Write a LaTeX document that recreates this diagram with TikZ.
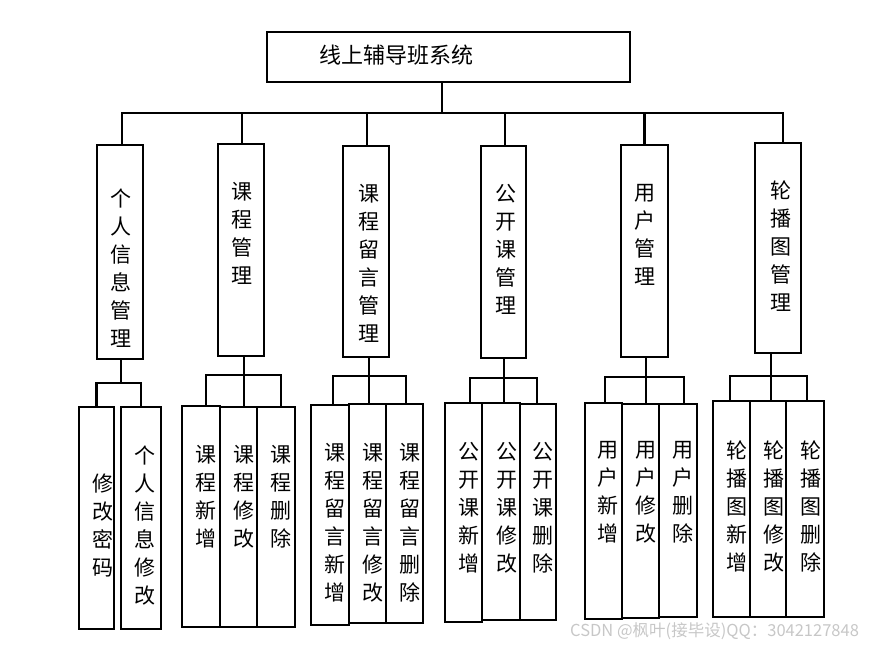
\documentclass[tikz,border=0pt]{standalone}
\usepackage{fontspec}
\newfontfamily\cjk{Noto Sans CJK SC}
\begin{document}
\begin{tikzpicture}[x=1pt,y=-1pt,
  bx/.style={draw, line width=2.6pt, inner sep=0pt, rectangle},
  vt/.style={font=\cjk\fontsize{21}{28}\selectfont, align=center, inner sep=0pt, anchor=north},
  ln/.style={line width=2.6pt, line join=miter}]
\useasboundingbox (0,0) rectangle (870,646);
% root
\node[bx, minimum width=363, minimum height=50] (root) at (448.5,57) {};
\node[font=\cjk\fontsize{22}{22}\selectfont, anchor=west, inner sep=0pt] (title) at (319,55) {线上辅导班系统};
% mid boxes
\node[bx, minimum width=46, minimum height=214] (m1) at (120,252) {};
\node[bx, minimum width=46, minimum height=212] (m2) at (241,250) {};
\node[bx, minimum width=46, minimum height=211] (m3) at (366,251.5) {};
\node[bx, minimum width=45, minimum height=212] (m4) at (503.5,252) {};
\node[bx, minimum width=47, minimum height=212] (m5) at (644.5,251) {};
\node[bx, minimum width=46, minimum height=210] (m6) at (778,248) {};
\node[vt] (t1) at (121,189) {个\\人\\信\\息\\管\\理};
\node[vt] (t2) at (242,182) {课\\程\\管\\理};
\node[vt] (t3) at (369,184) {课\\程\\留\\言\\管\\理};
\node[vt] (t4) at (506,184) {公\\开\\课\\管\\理};
\node[vt] (t5) at (645,184) {用\\户\\管\\理};
\node[vt] (t6) at (781,181) {轮\\播\\图\\管\\理};
% children
\node[bx, minimum width=35, minimum height=222] (c11) at (96.5,518) {};
\node[bx, minimum width=40, minimum height=222] (c12) at (141,518) {};
\node[bx, minimum width=38, minimum height=221] (c21) at (201,516.5) {};
\node[bx, minimum width=37, minimum height=220] (c22) at (238.5,517) {};
\node[bx, minimum width=38, minimum height=220] (c23) at (276,517) {};
\node[bx, minimum width=38, minimum height=220] (c31) at (330,515) {};
\node[bx, minimum width=37, minimum height=219] (c32) at (367.5,513.5) {};
\node[bx, minimum width=37, minimum height=219] (c33) at (404.5,513.5) {};
\node[bx, minimum width=37, minimum height=219] (c41) at (463.5,512.5) {};
\node[bx, minimum width=38, minimum height=217] (c42) at (501,511.5) {};
\node[bx, minimum width=36, minimum height=216] (c43) at (538,512) {};
\node[bx, minimum width=37, minimum height=216] (c51) at (603.5,511) {};
\node[bx, minimum width=37, minimum height=214] (c52) at (640.5,511) {};
\node[bx, minimum width=38, minimum height=213] (c53) at (678,510.5) {};
\node[bx, minimum width=37, minimum height=216] (c61) at (731.5,509) {};
\node[bx, minimum width=36, minimum height=216] (c62) at (768,509) {};
\node[bx, minimum width=38, minimum height=216] (c63) at (805,509) {};
% child texts
\node[vt] (d11) at (103,474) {修\\改\\密\\码};
\node[vt] (d12) at (145,446) {个\\人\\信\\息\\修\\改};
\node[vt] (d21) at (206,445) {课\\程\\新\\增};
\node[vt] (d22) at (244,445) {课\\程\\修\\改};
\node[vt] (d23) at (281,445) {课\\程\\删\\除};
\node[vt] (d31) at (335,443) {课\\程\\留\\言\\新\\增};
\node[vt] (d32) at (373,443) {课\\程\\留\\言\\修\\改};
\node[vt] (d33) at (410,443) {课\\程\\留\\言\\删\\除};
\node[vt] (d41) at (469,442) {公\\开\\课\\新\\增};
\node[vt] (d42) at (507,442) {公\\开\\课\\修\\改};
\node[vt] (d43) at (543,442) {公\\开\\课\\删\\除};
\node[vt] (d51) at (608,441) {用\\户\\新\\增};
\node[vt] (d52) at (646,441) {用\\户\\修\\改};
\node[vt] (d53) at (683,441) {用\\户\\删\\除};
\node[vt] (d61) at (737,441) {轮\\播\\图\\新\\增};
\node[vt] (d62) at (774,441) {轮\\播\\图\\修\\改};
\node[vt] (d63) at (811,441) {轮\\播\\图\\删\\除};
% top connectors
\coordinate (bus) at (442,113);
\draw[ln] ([xshift=-6.5pt]root.south) -- (bus);
\draw[ln] ([xshift=2pt]m1.north) |- (bus) -| ([xshift=5pt]m6.north);
\draw[ln] ([xshift=1pt]m2.north) -- ([xshift=1pt]m2.north |- bus);
\draw[ln] ([xshift=1pt]m3.north) -- ([xshift=1pt]m3.north |- bus);
\draw[ln] ([xshift=1.5pt]m4.north) -- ([xshift=1.5pt]m4.north |- bus);
\draw[ln] (m5.north) -- (m5.north |- bus);
% group connectors
\coordinate (j1) at (121,383);
\draw[ln] (m1.south -| j1) -- (j1);
\draw[ln] (c11.north) |- (j1) -| (c12.north);
\coordinate (j2) at (244,375);
\draw[ln] (m2.south -| j2) -- (j2 |- c22.north);
\draw[ln] ([xshift=5pt]c21.north) |- (j2) -| ([xshift=5pt]c23.north);
\coordinate (j3) at (369,376);
\draw[ln] (m3.south -| j3) -- (j3 |- c32.north);
\draw[ln] ([xshift=3pt]c31.north) |- (j3) -| ([xshift=1.5pt]c33.north);
\coordinate (j4) at (504,378);
\draw[ln] (m4.south -| j4) -- (j4 |- c42.north);
\draw[ln] ([xshift=6.5pt]c41.north) |- (j4) -| ([xshift=-1pt]c43.north);
\coordinate (j5) at (646,377);
\draw[ln] (m5.south -| j5) -- (j5 |- c52.north);
\draw[ln] ([xshift=1.5pt]c51.north) |- (j5) -| ([xshift=6pt]c53.north);
\coordinate (j6) at (771,376);
\draw[ln] (m6.south -| j6) -- (j6 |- c62.north);
\draw[ln] ([xshift=-1.5pt]c61.north) |- (j6) -| ([xshift=2pt]c63.north);
% watermark
\node[font=\cjk\fontsize{16.5}{17}\selectfont, text=black!22, anchor=west, inner sep=0pt] (wm) at (570,631) {CSDN @枫叶(接毕设)QQ：3042127848};
\end{tikzpicture}
\end{document}
